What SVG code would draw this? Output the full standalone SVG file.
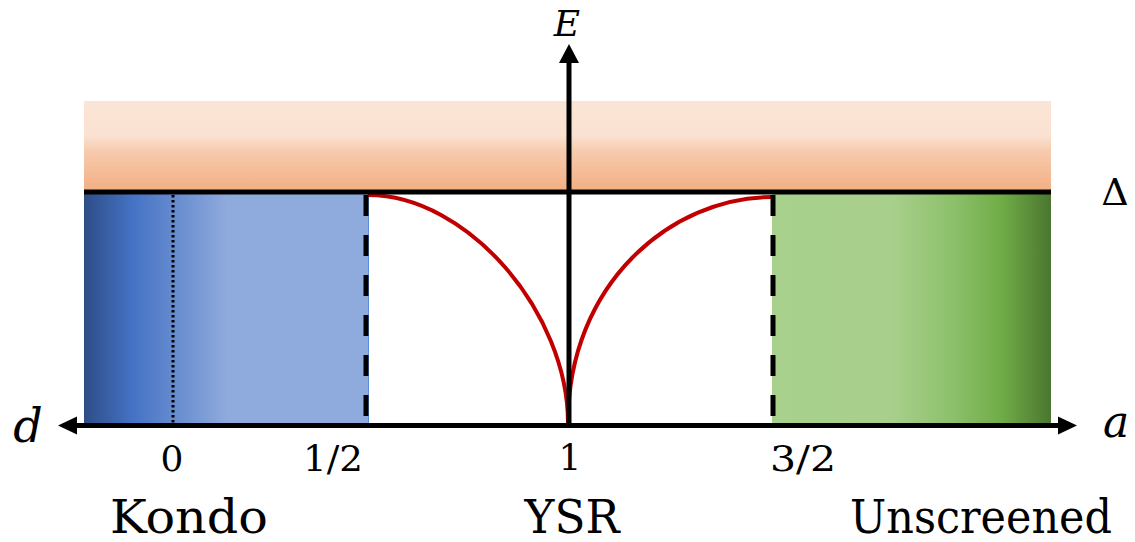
<svg xmlns="http://www.w3.org/2000/svg" width="1135" height="542" viewBox="0 0 1135 542">
  <style>
    .it { font-style: italic; }
    .axis { stroke: #000; stroke-width: 5; fill: none; }
    .dash { stroke: #000; stroke-width: 5; stroke-dasharray: 21 19; fill: none; }
    .curve { stroke: #C00000; stroke-width: 4; fill: none; }
  </style>
  <defs>
    <linearGradient id="gOrange" x1="0" y1="0" x2="0" y2="1">
      <stop offset="0" stop-color="#FBE5D6"/>
      <stop offset="0.38" stop-color="#FAE2D2"/>
      <stop offset="0.55" stop-color="#F7CBAF"/>
      <stop offset="1" stop-color="#F2AF82"/>
    </linearGradient>
    <linearGradient id="gBlue" x1="0" y1="0" x2="1" y2="0">
      <stop offset="0" stop-color="#2E4D86"/>
      <stop offset="0.17" stop-color="#4472C4"/>
      <stop offset="0.5" stop-color="#8FAADC"/>
      <stop offset="1" stop-color="#8FAADC"/>
    </linearGradient>
    <linearGradient id="gGreen" x1="0" y1="0" x2="1" y2="0">
      <stop offset="0" stop-color="#A9D18E"/>
      <stop offset="0.43" stop-color="#A8D08C"/>
      <stop offset="0.65" stop-color="#8CC06A"/>
      <stop offset="0.82" stop-color="#70AD47"/>
      <stop offset="1" stop-color="#4B7630"/>
    </linearGradient>
  </defs>

  <g id="gap-band">
    <rect x="84" y="101" width="967" height="90" fill="url(#gOrange)"/>
  </g>
  <g id="kondo-region">
    <rect x="84" y="194" width="285" height="230" fill="url(#gBlue)"/>
    <line x1="368.5" y1="194" x2="368.5" y2="424" stroke="#5B8BDC" stroke-width="1"/>
    <line x1="173" y1="195" x2="173" y2="423" stroke="#000" stroke-width="3" stroke-dasharray="2.5 2.5"/>
  </g>
  <g id="unscreened-region">
    <rect x="772" y="194" width="279" height="230" fill="url(#gGreen)"/>
  </g>

  <g id="ysr-curves">
    <path class="curve" d="M368,195 C468,195 568,313 568,423"/>
    <path class="curve" d="M568,423 C568,283 672,197 772,197"/>
  </g>

  <g id="connectors">
    <line class="axis" x1="84" y1="192" x2="1051" y2="192"/>
    <line class="dash" x1="366" y1="195" x2="366" y2="424"/>
    <line class="dash" x1="773" y1="195" x2="773" y2="424"/>
    <line class="axis" x1="72" y1="425.5" x2="1064" y2="425.5"/>
    <polygon points="58,425.5 77,416.5 77,434.5" fill="#000"/>
    <polygon points="1077,425.5 1058,416.5 1058,434.5" fill="#000"/>
    <line class="axis" x1="569" y1="425" x2="569" y2="58"/>
    <polygon points="569,44 559,63 579,63" fill="#000"/>
  </g>

  <g font-family="'DejaVu Serif', serif" text-anchor="middle" fill="#000">
    <g id="axis-labels">
      <text class="it" x="567" y="36" font-size="36">E</text>
      <text class="it" x="28" y="442" font-size="46">d</text>
      <text class="it" x="1116" y="437" font-size="44">a</text>
      <text x="1115" y="205" font-size="38">Δ</text>
    </g>
    <g id="tick-labels">
      <text x="172" y="471" font-size="36">0</text>
      <text x="333" y="471" font-size="36" textLength="60" lengthAdjust="spacingAndGlyphs">1/2</text>
      <text x="570" y="470" font-size="36">1</text>
      <text x="803" y="471" font-size="36" textLength="66" lengthAdjust="spacingAndGlyphs">3/2</text>
    </g>
    <g id="regime-labels">
      <text x="189" y="533" font-size="46" textLength="158" lengthAdjust="spacingAndGlyphs">Kondo</text>
      <text x="572" y="533" font-size="46" textLength="95" lengthAdjust="spacingAndGlyphs">YSR</text>
      <text x="981" y="533" font-size="46" textLength="262" lengthAdjust="spacingAndGlyphs">Unscreened</text>
    </g>
  </g>
</svg>
